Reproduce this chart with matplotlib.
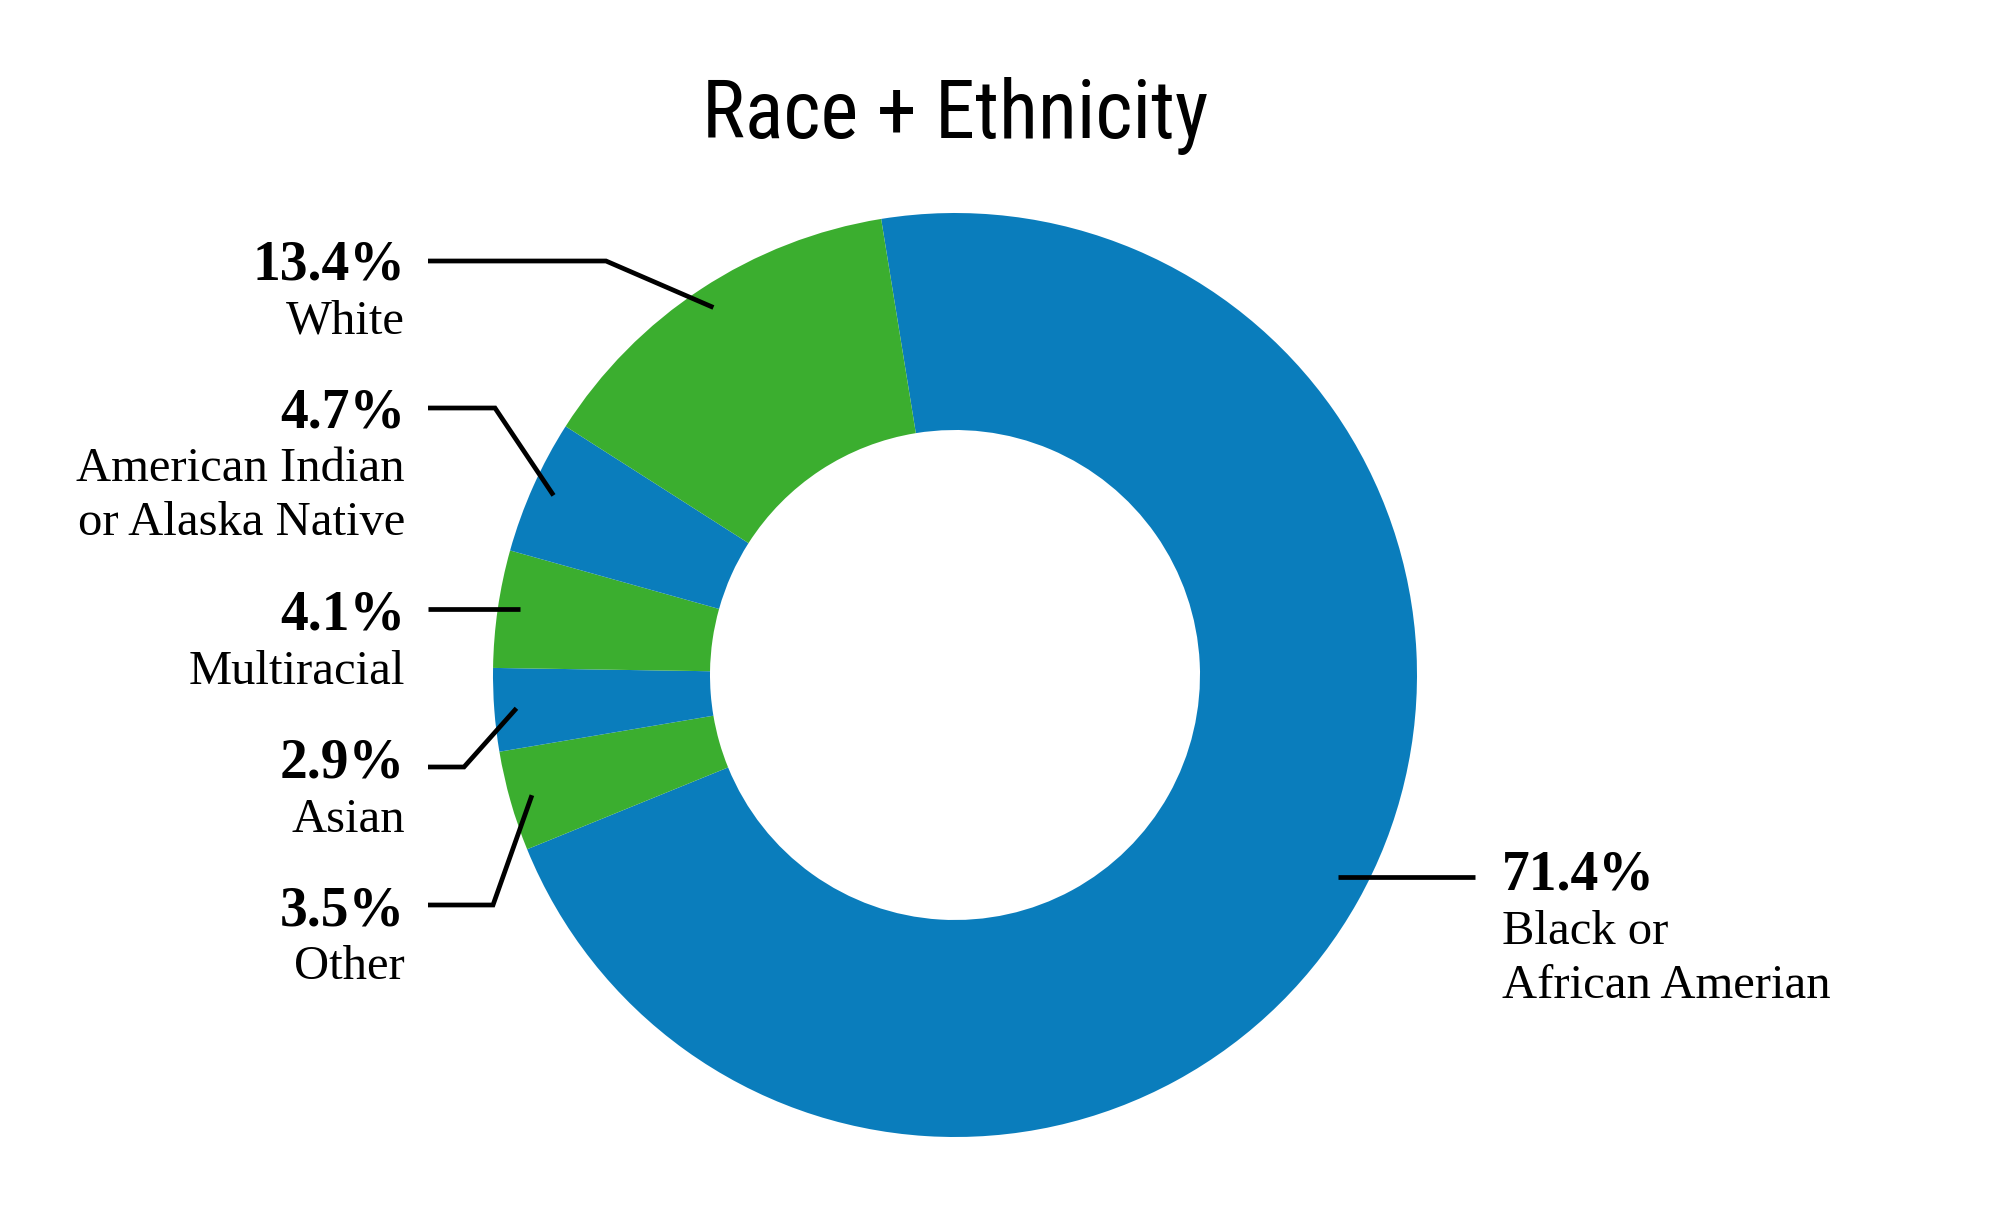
import matplotlib
matplotlib.use("Agg")
import matplotlib.pyplot as plt
from matplotlib import font_manager as fm
import numpy as np

# ---- data ----
categories = ["Black or\nAfrican Amerian", "Other", "Asian", "Multiracial",
              "American Indian\nor Alaska Native", "White"]
values = [71.4, 3.5, 2.9, 4.1, 4.7, 13.4]
pct_labels = ["71.4%", "3.5%", "2.9%", "4.1%", "4.7%", "13.4%"]
colors = ["#0A7DBC", "#3BAE2F", "#0A7DBC", "#3BAE2F", "#0A7DBC", "#3BAE2F"]
title = "Race + Ethnicity"

# ---- layout (pixel coordinates, y from top) ----
W, H = 2000, 1212
cx, cy = 955, 675
R_out, R_in = 462, 245
start_angle = 99.2

# label layout per category: side, pct baseline y, leader y, elbow x
label_side = ["right", "left", "left", "left", "left", "left"]
pct_base = [890, 925, 778, 630, 427, 279]
leader_y = [877, 905, 767, 609, 408, 261]
elbow_x = [None, 493, 464, None, 495, 606]
left_text_x = 405
left_line_x = 428
right_text_x = 1502
right_line_x = 1475
name_gap = 54
line_spacing = 54

# ---- fonts ----
names = {f.name for f in fm.fontManager.ttflist}
title_kw = None
for cand in ["Roboto Condensed", "Liberation Sans Narrow", "Open Sans Condensed"]:
    if cand in names:
        title_kw = dict(family=cand, fontsize=58)
        break
if title_kw is None:
    title_kw = dict(family="DejaVu Sans", fontstretch="condensed", fontsize=52)

serif = "Liberation Serif"

fig = plt.figure(figsize=(W / 100, H / 100), dpi=100)
ax = fig.add_axes([0, 0, 1, 1])

def fy(y):
    return H - y

wedges, _ = ax.pie(values, colors=colors, startangle=start_angle, counterclock=False,
                   radius=R_out, center=(cx, fy(cy)),
                   wedgeprops=dict(width=R_out - R_in, linewidth=0))
ax.set_xlim(0, W)
ax.set_ylim(0, H)
ax.set_aspect("equal")
ax.axis("off")

for i, w in enumerate(wedges):
    mid = np.deg2rad((w.theta1 + w.theta2) / 2)
    ex = cx + 0.952 * R_out * np.cos(mid)
    ey = fy(cy) + 0.952 * R_out * np.sin(mid)
    ly = fy(leader_y[i])
    if label_side[i] == "left":
        if elbow_x[i] is None:
            xs, ys = [left_line_x, ex], [ly, ly]
        else:
            xs, ys = [left_line_x, elbow_x[i], ex], [ly, ly, ey]
        tx, ha = left_text_x, "right"
    else:
        xs, ys = [ex, right_line_x], [ly, ly]
        tx, ha = right_text_x, "left"
    ax.plot(xs, ys, color="black", lw=3.4, solid_capstyle="butt", solid_joinstyle="miter")
    ax.text(tx, fy(pct_base[i]), pct_labels[i], ha=ha, va="baseline",
            family=serif, fontweight="bold", fontsize=40, color="black")
    for j, line in enumerate(categories[i].split("\n")):
        ax.text(tx, fy(pct_base[i] + name_gap + j * line_spacing), line, ha=ha,
                va="baseline", family=serif, fontsize=35, color="black")

ax.text(cx, fy(138), title, ha="center", va="baseline", color="black", **title_kw)

fig.savefig("out.png", dpi=100, facecolor="white")
